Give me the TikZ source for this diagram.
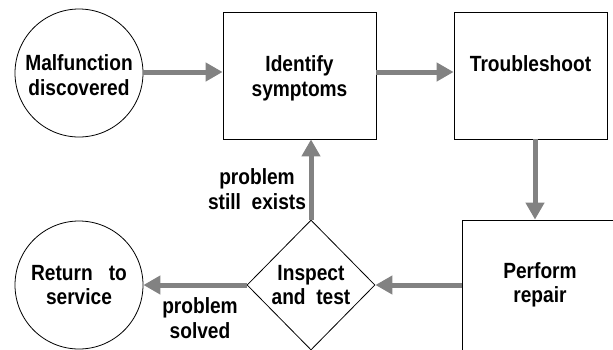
\documentclass[tikz,border=0pt]{standalone}
\usepackage{fontspec}
\usetikzlibrary{arrows.meta,shapes.geometric}
\newfontfamily\dfont{Liberation Sans Bold}[FakeStretch=0.87]
\definecolor{arrowgray}{RGB}{130,130,130}
\newcommand{\topgap}[1]{\rule{0pt}{#1}}
\begin{document}
\begin{tikzpicture}[x=1pt,y=-1pt,
  every node/.style={font=\dfont\fontsize{22}{24.5}\selectfont,align=center},
  box/.style={draw,line width=0.8pt,minimum width=153pt,minimum height=127pt,inner sep=0pt},
  circ/.style={draw,circle,minimum size=128pt,inner sep=0pt,line width=0.8pt},
  dia/.style={draw,diamond,minimum width=128pt,minimum height=130pt,inner sep=0pt,line width=0.8pt},
  flow/.style={draw=arrowgray,line width=5pt,-{Triangle[length=17pt,width=18pt]}}]
\useasboundingbox (0,0) rectangle (613,349);
\clip (0,0) rectangle (613,349);
\node[circ] (mal) at (79,73) {\topgap{20pt}Malfunction\\discovered};
\node[box] (id) at (299.5,75.5) {\topgap{22pt}Identify\\symptoms};
\node[box] (tr) at (530.5,75.5) {Troubleshoot\\\mbox{}};
\node[box,minimum width=155pt,minimum height=130pt] (rep) at (540,285) {Perform\\repair};
\node[dia] (ins) at (311,285) {Inspect\\and\ \ test};
\node[circ] (ret) at (79,285) {Return\ \ \ to\\service};
\node (l1) at (257,189) {problem\\still\ \ exists};
\node (l2) at (200,318) {problem\\solved};
\draw[flow] (mal.east |- 0,72) -- (id.west |- 0,72);
\draw[flow] (id.east |- 0,72) -- (tr.west |- 0,72);
\draw[flow] ([xshift=4.5pt]tr.south) -- ([xshift=4.5pt]tr.south |- rep.north);
\draw[flow] (rep.west) -- (ins.east);
\draw[flow] (ins.west) -- (ret.east);
\draw[flow] (ins.north) -- (ins.north |- id.south);
\end{tikzpicture}
\end{document}
